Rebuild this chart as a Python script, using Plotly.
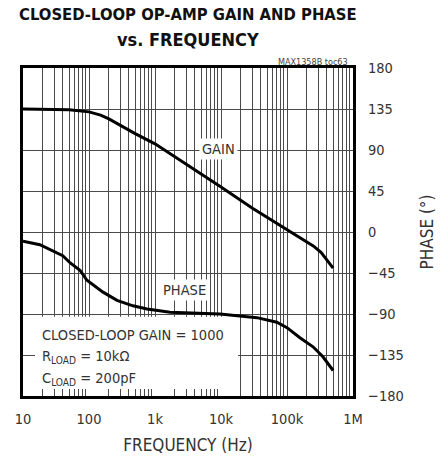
import plotly.graph_objects as go

# data
gain_freq = [10, 50, 100, 150, 200, 300, 500, 1000, 3000, 10000, 30000, 100000, 160000, 250000, 330000, 400000, 500000]
gain_db = [60, 59.8, 59.3, 58.5, 57.6, 56.0, 54.0, 51.5, 46.5, 41.0, 35.8, 30.5, 28.4, 26.6, 25.0, 23.2, 21.2]

phase_freq = [10, 18, 40, 52, 73, 93, 163, 266, 464, 757, 1690, 9660, 35000, 70000, 100000, 157000, 248000, 350000, 500000]
phase_deg = [-10, -14, -26, -34, -42, -53, -66, -75, -81, -84.5, -88, -90, -94, -99, -105, -116, -126, -137, -152]

x_ticks = [10, 100, 1000, 10000, 100000, 1000000]
x_ticktext = ["10", "100", "1k", "10k", "100k", "1M"]
minor_ticks = [m * 10 ** d for d in range(1, 6) for m in range(2, 10)]
gain_ticks = list(range(-10, 71, 10))
phase_ticks = list(range(-180, 181, 45))

notes = ["CLOSED-LOOP GAIN = 1000", "R<sub>LOAD</sub> = 10kΩ", "C<sub>LOAD</sub> = 200pF"]

FONT = "DejaVu Sans Condensed, Roboto, sans-serif"
GRID = "#4a4a4a"

fig = go.Figure()
fig.add_trace(go.Scatter(x=gain_freq, y=gain_db, mode="lines", line=dict(color="black", width=3),
                         yaxis="y", showlegend=False))
fig.add_trace(go.Scatter(x=phase_freq, y=phase_deg, mode="lines", line=dict(color="black", width=3),
                         yaxis="y2", showlegend=False))

# page has an 8px body margin, so the figure is offset by that much
fig.update_layout(
    width=448, height=460,
    margin=dict(l=15, r=103, t=60, b=72),
    plot_bgcolor="white", paper_bgcolor="white",
    font=dict(family=FONT, size=14.5, color="#333"),
    xaxis=dict(type="log", range=[1, 6], tickvals=x_ticks, ticktext=x_ticktext,
               showgrid=True, gridcolor=GRID, gridwidth=1,
               minor=dict(tickmode="array", tickvals=minor_ticks, showgrid=True, gridcolor=GRID, gridwidth=1,
                          ticks="inside", ticklen=7, tickcolor=GRID),
               showline=True, linecolor="black", linewidth=2.5, mirror=True, ticks="",
               ticklabelstandoff=8, title=dict(text="FREQUENCY (Hz)", standoff=13), zeroline=False,
               automargin=False),
    yaxis=dict(range=[-10, 70], tickvals=gain_ticks, showgrid=True, gridcolor=GRID, gridwidth=1,
               showline=True, linecolor="black", linewidth=2.5, mirror=True, ticks="",
               ticklabelstandoff=9, zeroline=False, automargin=False),
    yaxis2=dict(range=[-180, 180], tickvals=phase_ticks, overlaying="y", side="right", showgrid=False,
                ticks="", ticklabelstandoff=14, zeroline=False, automargin=False,
                title=dict(text="PHASE (°)", standoff=18)),
)

fig.add_annotation(x=0.5, y=1 + 54 / 328, xref="paper", yref="paper", xanchor="center", yanchor="middle",
                   text="<b>CLOSED-LOOP OP-AMP GAIN AND PHASE</b>", showarrow=False,
                   font=dict(family=FONT, size=16.5, color="#111"))
fig.add_annotation(x=0.5, y=1 + 28 / 328, xref="paper", yref="paper", xanchor="center", yanchor="middle",
                   text="<b>vs. FREQUENCY</b>", showarrow=False,
                   font=dict(family=FONT, size=18, color="#111"))
fig.add_annotation(x=0.99, y=1.0, xref="paper", yref="paper", xanchor="right", yanchor="bottom",
                   text="MAX1358B toc63", showarrow=False, font=dict(size=9, color="#444"), yshift=-1)
fig.add_annotation(x=3.955, y=50.2, xref="x", yref="y", text="GAIN", showarrow=False,
                   bgcolor="white", font=dict(size=14.5, color="#333"), borderpad=2)
fig.add_annotation(x=3.45, y=-64, xref="x", yref="y2", text="PHASE", showarrow=False,
                   bgcolor="white", font=dict(size=14.5, color="#333"), borderpad=2)

# white panel behind the notes
fig.add_shape(type="rect", xref="x", yref="y", x0=15.2, x1=18100, y0=-10, y1=9.3,
              fillcolor="white", line_width=0, layer="between")
for text, y in zip(notes, [4.9, -0.4, -5.8]):
    fig.add_annotation(x=1.258, y=y, xref="x", yref="y", xanchor="left", yanchor="middle",
                       text=text, showarrow=False, font=dict(size=14.5, color="#333"))

fig.write_html("out.html")
